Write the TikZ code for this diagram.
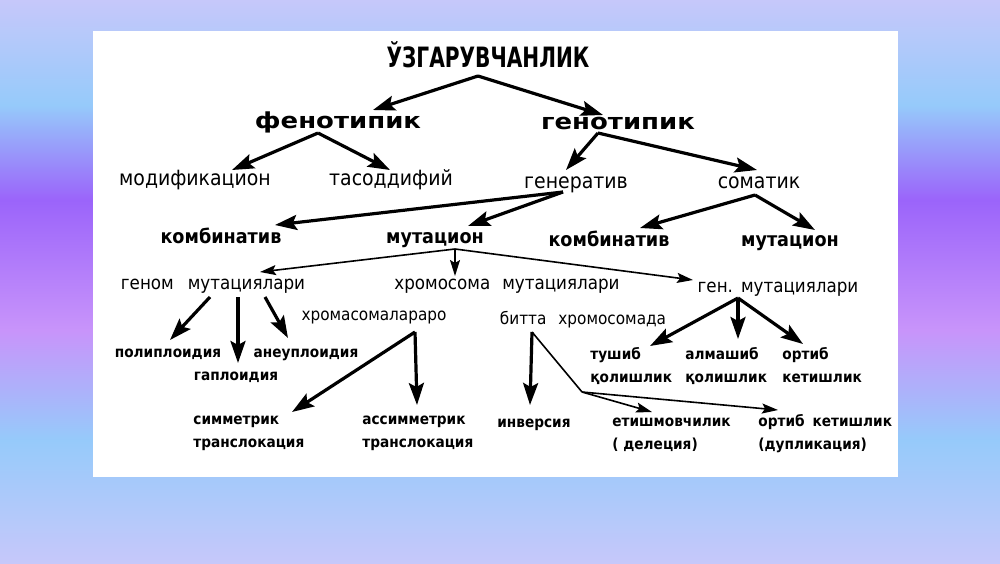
\documentclass[tikz,border=0pt]{standalone}
\usepackage{fontspec}
\setmainfont{DejaVu Sans Condensed}
\newfontfamily\titlefont{DejaVu Sans Condensed}[FakeStretch=0.8]
\newfontfamily\widefont{DejaVu Sans}[FakeStretch=1.18]
\usetikzlibrary{arrows.meta,calc}

\definecolor{bglav}{RGB}{198,200,250}
\definecolor{bgsky}{RGB}{150,202,250}
\definecolor{bgpurple}{RGB}{155,100,250}
\definecolor{bgviolet}{RGB}{200,148,250}

\tikzset{
  every node/.style={inner sep=0pt},
  toptitle/.style={anchor=base,font=\titlefont\bfseries\fontsize{14}{16}\selectfont},
  lvlone/.style={anchor=base,font=\widefont\bfseries\fontsize{11}{13}\selectfont},
  lvltwo/.style={anchor=base,font=\fontsize{10.5}{12}\selectfont},
  lvlthree/.style={anchor=base,font=\bfseries\fontsize{9.8}{12}\selectfont},
  lvlfour/.style={anchor=base,font=\fontsize{9.3}{11}\selectfont},
  lvlfive/.style={anchor=base,font=\fontsize{8.5}{10}\selectfont},
  leaf/.style={anchor=base,font=\bfseries\fontsize{7.6}{11.5}\selectfont},
  leaftwo/.style={anchor=base west,align=left,font=\bfseries\fontsize{7.6}{11.5}\selectfont},
  arr/.style={line width=1.6pt,-{Stealth[length=11pt,width=7.5pt,inset=2pt]}},
  thinarr/.style={line width=0.8pt,-{Stealth[length=8pt,width=5pt,inset=1.5pt]}}
}

\begin{document}
\begin{tikzpicture}[x=0.5pt,y=-0.5pt]
\useasboundingbox (0,0) rectangle (1000,563);
% background
\shade[top color=bglav,bottom color=bgsky] (0,0) rectangle (1000,105);
\shade[top color=bgsky,bottom color=bgpurple] (0,105) rectangle (1000,200);
\shade[top color=bgpurple,bottom color=bgviolet] (0,200) rectangle (1000,330);
\shade[top color=bgviolet,bottom color=bgsky] (0,330) rectangle (1000,440);
\shade[top color=bgsky,bottom color=bglav] (0,440) rectangle (1000,563);
\fill[white] (93,31) rectangle (898,477);

% labels
\node[toptitle] (tit) at (488,67) {ЎЗГАРУВЧАНЛИК};
\node[lvlone] (fen) at (338,128) {фенотипик};
\node[lvlone] (gen) at (618,129) {генотипик};
\node[lvltwo] (mod) at (195,185) {модификацион};
\node[lvltwo] (tas) at (391,185) {тасоддифий};
\node[lvltwo] (gnr) at (576,188) {генератив};
\node[lvltwo] (som) at (759,188) {соматик};
\node[lvlthree] (kmbl) at (221,243) {комбинатив};
\node[lvlthree] (mutc) at (435,243) {мутацион};
\node[lvlthree] (kmbr) at (609,246) {комбинатив};
\node[lvlthree] (mutr) at (790,246) {мутацион};
\node[lvlfour] (genom) at (213,289) {геном\hspace{7pt}мутациялари};
\node[lvlfour] (xrom) at (507,289) {хромосома\hspace{6pt}мутациялари};
\node[lvlfour] (genm) at (778,292) {ген.\hspace{4pt}мутациялари};
\node[lvlfive] (xrl) at (374,320) {хромасомалараро};
\node[lvlfive] (bit) at (583,324) {битта\hspace{6pt}хромосомада};
\node[leaf] (poli) at (168,357) {полиплоидия};
\node[leaf] (gap) at (236,380) {гаплоидия};
\node[leaf] (aneu) at (306,357) {анеуплоидия};
\node[leaftwo] (tush) at (590,382) {тушиб\\қолишлик};
\node[leaftwo] (alm) at (685,382) {алмашиб\\қолишлик};
\node[leaftwo] (ort) at (782,382) {ортиб\\кетишлик};
\node[leaftwo] (sim) at (193,447) {симметрик\\транслокация};
\node[leaftwo] (asim) at (362,447) {ассимметрик\\транслокация};
\node[leaf] (inv) at (534,427) {инверсия};
\node[leaftwo] (etis) at (612,449) {етишмовчилик\\( делеция)};
\node[leaftwo] (ort2) at (758,449) {ортиб\hspace{4pt}кетишлик\\(дупликация)};
\coordinate (knee) at (582,392);

% arrows
\draw[arr] ($(tit.base)+(-10,9)$) -- ($(fen.base)+(35,-18)$);
\draw[arr] ($(tit.base)+(-10,9)$) -- ($(gen.base)+(-15,-14)$);
\draw[arr] ($(fen.base)+(-20,5)$) -- ($(mod.base)+(37,-15)$);
\draw[arr] ($(fen.base)+(-20,5)$) -- ($(tas.base)+(-1,-15)$);
\draw[arr] ($(gen.base)+(-20,4)$) -- ($(gnr.base)+(-10,-18)$);
\draw[arr] ($(gen.base)+(-20,4)$) -- ($(som.base)+(-2,-18)$);
\draw[arr] ($(gnr.base)+(-13,4)$) -- ($(kmbl.base)+(54,-18)$);
\draw[arr] ($(gnr.base)+(-13,4)$) -- ($(mutc.base)+(33,-17)$);
\draw[arr] ($(som.base)+(-4,7)$) -- ($(kmbr.base)+(31,-18)$);
\draw[arr] ($(som.base)+(-4,7)$) -- ($(mutr.base)+(25,-16)$);
\draw[thinarr] ($(mutc.base)+(20,6)$) -- ($(genom.base)+(47,-17)$);
\draw[thinarr] ($(mutc.base)+(20,6)$) -- ($(xrom.base)+(-52,-13)$);
\draw[thinarr] ($(mutc.base)+(20,6)$) -- ($(genm.base)+(-85,-12)$);
\draw[arr] ($(genom.base)+(-3,8)$) -- ($(poli.base)+(2,-17)$);
\draw[arr] ($(genom.base)+(25,8)$) -- ($(gap.base)+(2,-17)$);
\draw[arr] ($(genom.base)+(52,8)$) -- ($(aneu.base)+(-18,-19)$);
\draw[arr] ($(xrl.base)+(41,12)$) -- ($(sim.base west)+(99,-35)$);
\draw[arr] ($(xrl.base)+(41,12)$) -- ($(asim.base west)+(55,-42)$);
\draw[arr] ($(bit.base)+(-51,8)$) -- ($(inv.base)+(-4,-22)$);
\draw[line width=0.8pt] ($(bit.base)+(-51,8)$) -- (knee);
\draw[thinarr] (knee) -- ($(etis.base west)+(40,-37)$);
\draw[thinarr] (knee) -- ($(ort2.base west)+(20,-39)$);
\draw[arr] ($(genm.base)+(-40,6)$) -- ($(tush.base west)+(60,-36)$);
\draw[arr] ($(genm.base)+(-40,6)$) -- ($(alm.base west)+(53,-43)$);
\draw[arr] ($(genm.base)+(-40,6)$) -- ($(ort.base west)+(21,-38)$);
\end{tikzpicture}
\end{document}
